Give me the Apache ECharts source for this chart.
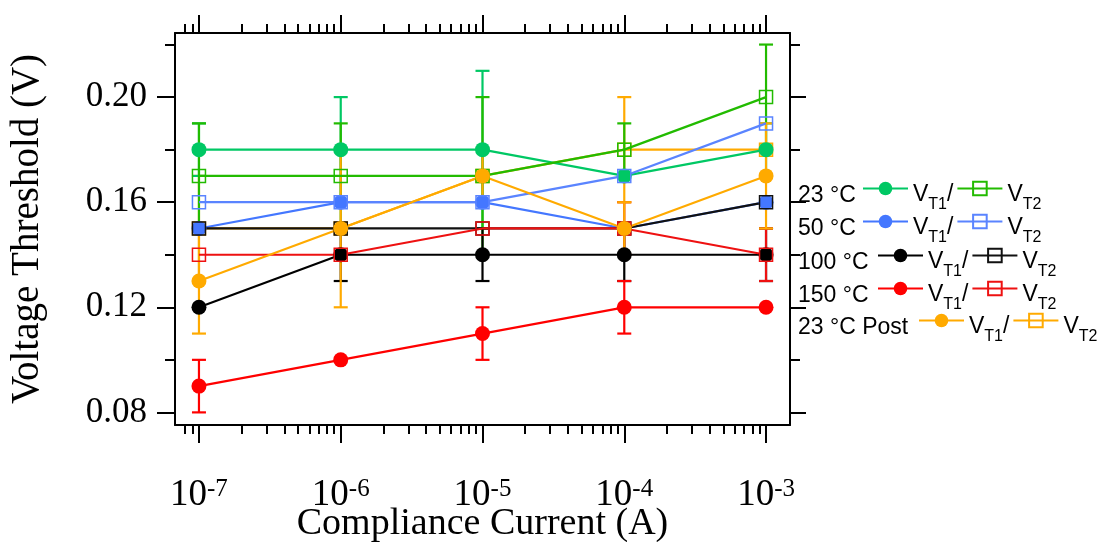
<!DOCTYPE html>
<html>
<head>
<meta charset="utf-8">
<script src="https://cdn.jsdelivr.net/npm/echarts@6/dist/echarts.min.js"></script>
<style>html,body{margin:0;padding:0;background:#fff;}#c{width:1099px;height:542px;}</style>
</head>
<body>
<div id="c"></div>
<script>
// ---- data ----
const currents = [1e-7, 1e-6, 1e-5, 1e-4, 1e-3];
const xMajorTicks = [1e-7, 1e-6, 1e-5, 1e-4, 1e-3];
const yMajorTicks = [0.08, 0.12, 0.16, 0.20];
const yMinorTicks = [0.10, 0.14, 0.18, 0.22];

const t23_vt1 = [0.18, 0.18, 0.18, 0.17, 0.18];
const t23_vt1_err = [0.01, 0.02, 0.03, 0, 0.01];
const t23_vt2 = [0.17, 0.17, 0.17, 0.18, 0.20];
const t23_vt2_err = [0.02, 0.02, 0.03, 0.01, 0.02];
const t50_vt1 = [0.15, 0.16, 0.16, 0.15, 0.16];
const t50_vt1_err = [0, 0, 0, 0, 0];
const t50_vt2 = [0.16, 0.16, 0.16, 0.17, 0.19];
const t50_vt2_err = [0, 0, 0, 0, 0];
const t100_vt1 = [0.12, 0.14, 0.14, 0.14, 0.14];
const t100_vt1_err = [0, 0.01, 0.01, 0.01, 0.01];
const t100_vt2 = [0.15, 0.15, 0.15, 0.15, 0.16];
const t100_vt2_err = [0, 0, 0, 0, 0];
const t150_vt1 = [0.09, 0.10, 0.11, 0.12, 0.12];
const t150_vt1_err = [0.01, 0, 0.01, 0.01, 0];
const t150_vt2 = [0.14, 0.14, 0.15, 0.15, 0.14];
const t150_vt2_err = [0, 0, 0, 0.01, 0.01];
const post_vt1 = [0.13, 0.15, 0.17, 0.15, 0.17];
const post_vt1_err = [0.02, 0.03, 0.01, 0.01, 0.02];
const post_vt2 = [0.15, 0.15, 0.17, 0.18, 0.18];
const post_vt2_err = [0.02, 0, 0, 0.02, 0];

const groups = [
  {label: '23 °C', c1: '#00c864', c2: '#22bb00', v1: t23_vt1, e1: t23_vt1_err, v2: t23_vt2, e2: t23_vt2_err, z2: 3},
  {label: '50 °C', c1: '#4477ff', c2: '#5a84ff', v1: t50_vt1, e1: t50_vt1_err, v2: t50_vt2, e2: t50_vt2_err, z2: 3},
  {label: '100 °C', c1: '#000000', c2: '#111111', v1: t100_vt1, e1: t100_vt1_err, v2: t100_vt2, e2: t100_vt2_err, z2: 3},
  {label: '150 °C', c1: '#ff0000', c2: '#ee1111', v1: t150_vt1, e1: t150_vt1_err, v2: t150_vt2, e2: t150_vt2_err, z2: 3},
  {label: '23 °C Post', c1: '#ffaa00', c2: '#ffaa00', v1: post_vt1, e1: post_vt1_err, v2: post_vt2, e2: post_vt2_err, z2: 2}
];

// minor log ticks
const xMinorTicks = [];
for (let e = -8; e <= -3; e++) {
  for (let m = 2; m <= 9; m++) {
    const v = m * Math.pow(10, e);
    if (v > 7.5e-8 && v < 1.4e-3) xMinorTicks.push(v);
  }
}

const xMin = Math.pow(10, -7.169), xMax = Math.pow(10, -2.831);
const yMin = 0.0752, yMax = 0.2244;

const chart = echarts.init(document.getElementById('c'), null, {renderer: 'canvas'});

function errSeries(name, vals, errs, color, z) {
  return {
    type: 'custom', name: name, xAxisIndex: 0, yAxisIndex: 0,
    data: currents.map((c, i) => [c, vals[i], errs[i]]),
    silent: true,
    renderItem: function (params, api) {
      const x = api.value(0), y = api.value(1), e = api.value(2);
      if (!e) return null;
      const p1 = api.coord([x, y + e]);
      const p2 = api.coord([x, y - e]);
      const hw = 7;
      const st = {stroke: color, lineWidth: 2.2};
      return {type: 'group', children: [
        {type: 'line', shape: {x1: p1[0], y1: p1[1], x2: p2[0], y2: p2[1]}, style: st},
        {type: 'line', shape: {x1: p1[0] - hw, y1: p1[1], x2: p1[0] + hw, y2: p1[1]}, style: st},
        {type: 'line', shape: {x1: p2[0] - hw, y1: p2[1], x2: p2[0] + hw, y2: p2[1]}, style: st}
      ]};
    },
    encode: {x: 0, y: 1},
    z: z
  };
}

const series = [];
const legends = [];
const rowY = [195, 228, 262, 295, 327];
const rowX = [862, 862, 877, 877, 918];
groups.forEach((g, gi) => {
  const n1 = g.label + ' VT1', n2 = g.label + ' VT2';
  series.push({
    type: 'line', name: n1, data: currents.map((c, i) => [c, g.v1[i]]),
    symbol: 'circle', symbolSize: 15, showSymbol: true,
    lineStyle: {color: g.c1, width: 2.2}, itemStyle: {color: g.c1},
    z: 3, animation: false
  });
  series.push(errSeries(n1, g.v1, g.e1, g.c1, 3));
  series.push({
    type: 'line', name: n2, data: currents.map((c, i) => [c, g.v2[i]]),
    symbol: 'rect', symbolSize: 13, showSymbol: true,
    lineStyle: {color: g.c2, width: 2.2},
    itemStyle: {color: 'rgba(255,255,255,0)', borderColor: g.c2, borderWidth: 1.5},
    z: g.z2, animation: false
  });
  series.push(errSeries(n2, g.v2, g.e2, g.c2, g.z2));
  legends.push({
    orient: 'horizontal', left: rowX[gi], top: rowY[gi] - 18, width: 260, padding: 0,
    itemWidth: 45, itemHeight: 17, itemGap: 3,
    data: [n1, n2], selectedMode: false,
    formatter: function (name) {
      return name.endsWith('VT1') ? '{v|V}{s|T1}{v|/}' : '{v|V}{s|T2}';
    },
    textStyle: {
      fontFamily: 'Liberation Sans', color: '#000',
      rich: {
        v: {fontFamily: 'Liberation Sans', fontSize: 23, color: '#000', lineHeight: 23, padding: [6, 0, 0, 0], verticalAlign: 'top'},
        s: {fontFamily: 'Liberation Sans', fontSize: 16, color: '#000', lineHeight: 16, padding: [20, 0, 0, 0], verticalAlign: 'top'}
      }
    }
  });
});

const labelFont = 'Liberation Serif';
const axisLineStyle = {color: '#000', width: 2};

const option = {
  animation: false,
  backgroundColor: '#fff',
  grid: {left: 175, right: 309, top: 33, bottom: 117, containLabel: false, outerBoundsMode: 'none'},
  legend: legends,
  xAxis: [
    {type: 'log', logBase: 10, position: 'bottom', min: xMin, max: xMax,
     name: 'Compliance Current (A)', nameLocation: 'middle', nameGap: 80, nameMoveOverlap: false,
     nameTextStyle: {fontFamily: labelFont, fontSize: 38, color: '#000'},
     axisLine: {show: true, onZero: false, lineStyle: axisLineStyle},
     axisTick: {show: true, inside: false, length: 18, customValues: xMajorTicks, lineStyle: {color: '#000', width: 2}},
     minorTick: {show: false},
     splitLine: {show: false},
     axisLabel: {show: true, customValues: xMajorTicks, margin: 52,
       formatter: function (v) { return '{b|10}{s|' + Math.round(Math.log10(v)) + '}'; },
       rich: {
         b: {fontFamily: labelFont, fontSize: 37, color: '#000', verticalAlign: 'bottom', lineHeight: 37},
         s: {fontFamily: labelFont, fontSize: 25, color: '#000', verticalAlign: 'top', lineHeight: 25, padding: [0, 0, 6, 0]}
       }}
    },
    {type: 'log', logBase: 10, position: 'top', min: xMin, max: xMax,
     axisLine: {show: true, onZero: false, lineStyle: axisLineStyle},
     axisTick: {show: true, inside: false, length: 18, customValues: xMajorTicks, lineStyle: {color: '#000', width: 2}},
     splitLine: {show: false}, axisLabel: {show: false}},
    {type: 'log', logBase: 10, position: 'bottom', min: xMin, max: xMax,
     axisLine: {show: false, onZero: false},
     axisTick: {show: true, inside: false, length: 9, customValues: xMinorTicks, lineStyle: {color: '#000', width: 2}},
     splitLine: {show: false}, axisLabel: {show: false}},
    {type: 'log', logBase: 10, position: 'top', min: xMin, max: xMax,
     axisLine: {show: false, onZero: false},
     axisTick: {show: true, inside: false, length: 9, customValues: xMinorTicks, lineStyle: {color: '#000', width: 2}},
     splitLine: {show: false}, axisLabel: {show: false}}
  ],
  yAxis: [
    {type: 'value', position: 'left', min: yMin, max: yMax,
     name: 'Voltage Threshold (V)', nameLocation: 'middle', nameGap: 128, nameRotate: 90, nameMoveOverlap: false,
     nameTextStyle: {fontFamily: labelFont, fontSize: 39, color: '#000'},
     axisLine: {show: true, onZero: false, lineStyle: axisLineStyle},
     axisTick: {show: true, inside: false, length: 18, customValues: yMajorTicks, lineStyle: {color: '#000', width: 2}},
     splitLine: {show: false},
     axisLabel: {show: true, customValues: yMajorTicks, margin: 28,
       formatter: function (v) { return v.toFixed(2); },
       fontFamily: labelFont, fontSize: 35, color: '#000'}
    },
    {type: 'value', position: 'right', min: yMin, max: yMax,
     axisLine: {show: true, onZero: false, lineStyle: axisLineStyle},
     axisTick: {show: true, inside: false, length: 16, customValues: yMajorTicks, lineStyle: {color: '#000', width: 2}},
     splitLine: {show: false}, axisLabel: {show: false}},
    {type: 'value', position: 'left', min: yMin, max: yMax,
     axisLine: {show: false, onZero: false},
     axisTick: {show: true, inside: false, length: 10, customValues: yMinorTicks, lineStyle: {color: '#000', width: 2}},
     splitLine: {show: false}, axisLabel: {show: false}},
    {type: 'value', position: 'right', min: yMin, max: yMax,
     axisLine: {show: false, onZero: false},
     axisTick: {show: true, inside: false, length: 10, customValues: yMinorTicks, lineStyle: {color: '#000', width: 2}},
     splitLine: {show: false}, axisLabel: {show: false}}
  ],
  graphic: groups.map((g, gi) => ({
    type: 'text', left: 798, top: rowY[gi] - 11,
    style: {text: g.label, fontFamily: 'Liberation Sans', fontSize: 23, fill: '#000'}
  })),
  series: series
};
chart.setOption(option);
</script>
</body>
</html>
